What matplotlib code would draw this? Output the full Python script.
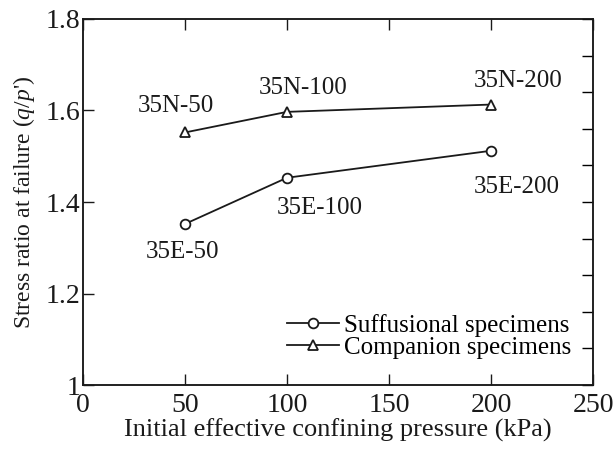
import matplotlib
matplotlib.use('Agg')
import matplotlib.pyplot as plt
import numpy as np

plt.rcParams['font.family'] = 'Liberation Serif'
plt.rcParams['mathtext.fontset'] = 'custom'
plt.rcParams['mathtext.rm'] = 'Liberation Serif'
plt.rcParams['mathtext.it'] = 'Liberation Serif:italic'

pressure = [50, 100, 200]
suffusional = [1.352, 1.453, 1.512]
companion = [1.552, 1.597, 1.613]
suff_names = ['35E-50', '35E-100', '35E-200']
comp_names = ['35N-50', '35N-100', '35N-200']
xticks = [0, 50, 100, 150, 200, 250]
yticks = [1.0, 1.2, 1.4, 1.6, 1.8]
ytick_labels = ['1', '1.2', '1.4', '1.6', '1.8']

# label offsets in pixels (dx, dy)
suff_off = [(-2, -28), (33, -30), (26, -36)]
comp_off = [(-9, 26), (16, 24), (27, 24)]

fig = plt.figure(figsize=(6.16, 4.5), dpi=100)
ax = fig.add_axes([0.1347, 0.1444, 0.828, 0.8134])

ax.plot(pressure, suffusional, '-o', color='#1a1a1a', lw=1.3, ms=7,
        mfc='white', mec='#1a1a1a', mew=1.3, label='Suffusional specimens')
ax.plot(pressure, companion, '-^', color='#1a1a1a', lw=1.3, ms=7.5,
        mfc='white', mec='#1a1a1a', mew=1.3, label='Companion specimens')

for x, y, s, o in zip(pressure, suffusional, suff_names, suff_off):
    ax.annotate(s, (x, y), xytext=o, textcoords='offset pixels',
                ha='center', va='center', fontsize=18, color='#1a1a1a')
for x, y, s, o in zip(pressure, companion, comp_names, comp_off):
    ax.annotate(s, (x, y), xytext=o, textcoords='offset pixels',
                ha='center', va='center', fontsize=18, color='#1a1a1a')

ax.set_xlim(0, 250)
ax.set_ylim(1.0, 1.8)
ax.set_xticks(xticks)
ax.set_xticklabels([str(t) for t in xticks])
ax.set_yticks(yticks)
ax.set_yticklabels(ytick_labels)
ax.tick_params(axis='both', direction='in', length=8, width=1, labelsize=20,
               colors='#1a1a1a')
ax.tick_params(axis='x', pad=6, top=True)
ax.tick_params(axis='y', pad=2)

# right-hand ticks come from a separate scale in the original figure
ax2 = ax.twinx()
ax2.set_ylim(1.0, 1.8)
ax2.set_yticks(np.linspace(1.0, 1.8, 11))
ax2.set_yticklabels([])
ax2.tick_params(direction='in', length=8, width=1)

for a in (ax, ax2):
    for sp in a.spines.values():
        sp.set_linewidth(1.1)
        sp.set_color('#1a1a1a')

ax.set_xlabel('Initial effective confining pressure (kPa)', fontsize=19,
              color='#1a1a1a', labelpad=0)
ax.set_ylabel("Stress ratio at failure ($q$/$p$')", fontsize=17,
              color='#1a1a1a', labelpad=6)

ax.legend(loc='upper left', bbox_to_anchor=(0.4, 0.195), frameon=False,
          fontsize=18, handlelength=2.1, handletextpad=0.2, labelspacing=0.0,
          borderaxespad=0, borderpad=0)

fig.savefig('out.png', dpi=100)
